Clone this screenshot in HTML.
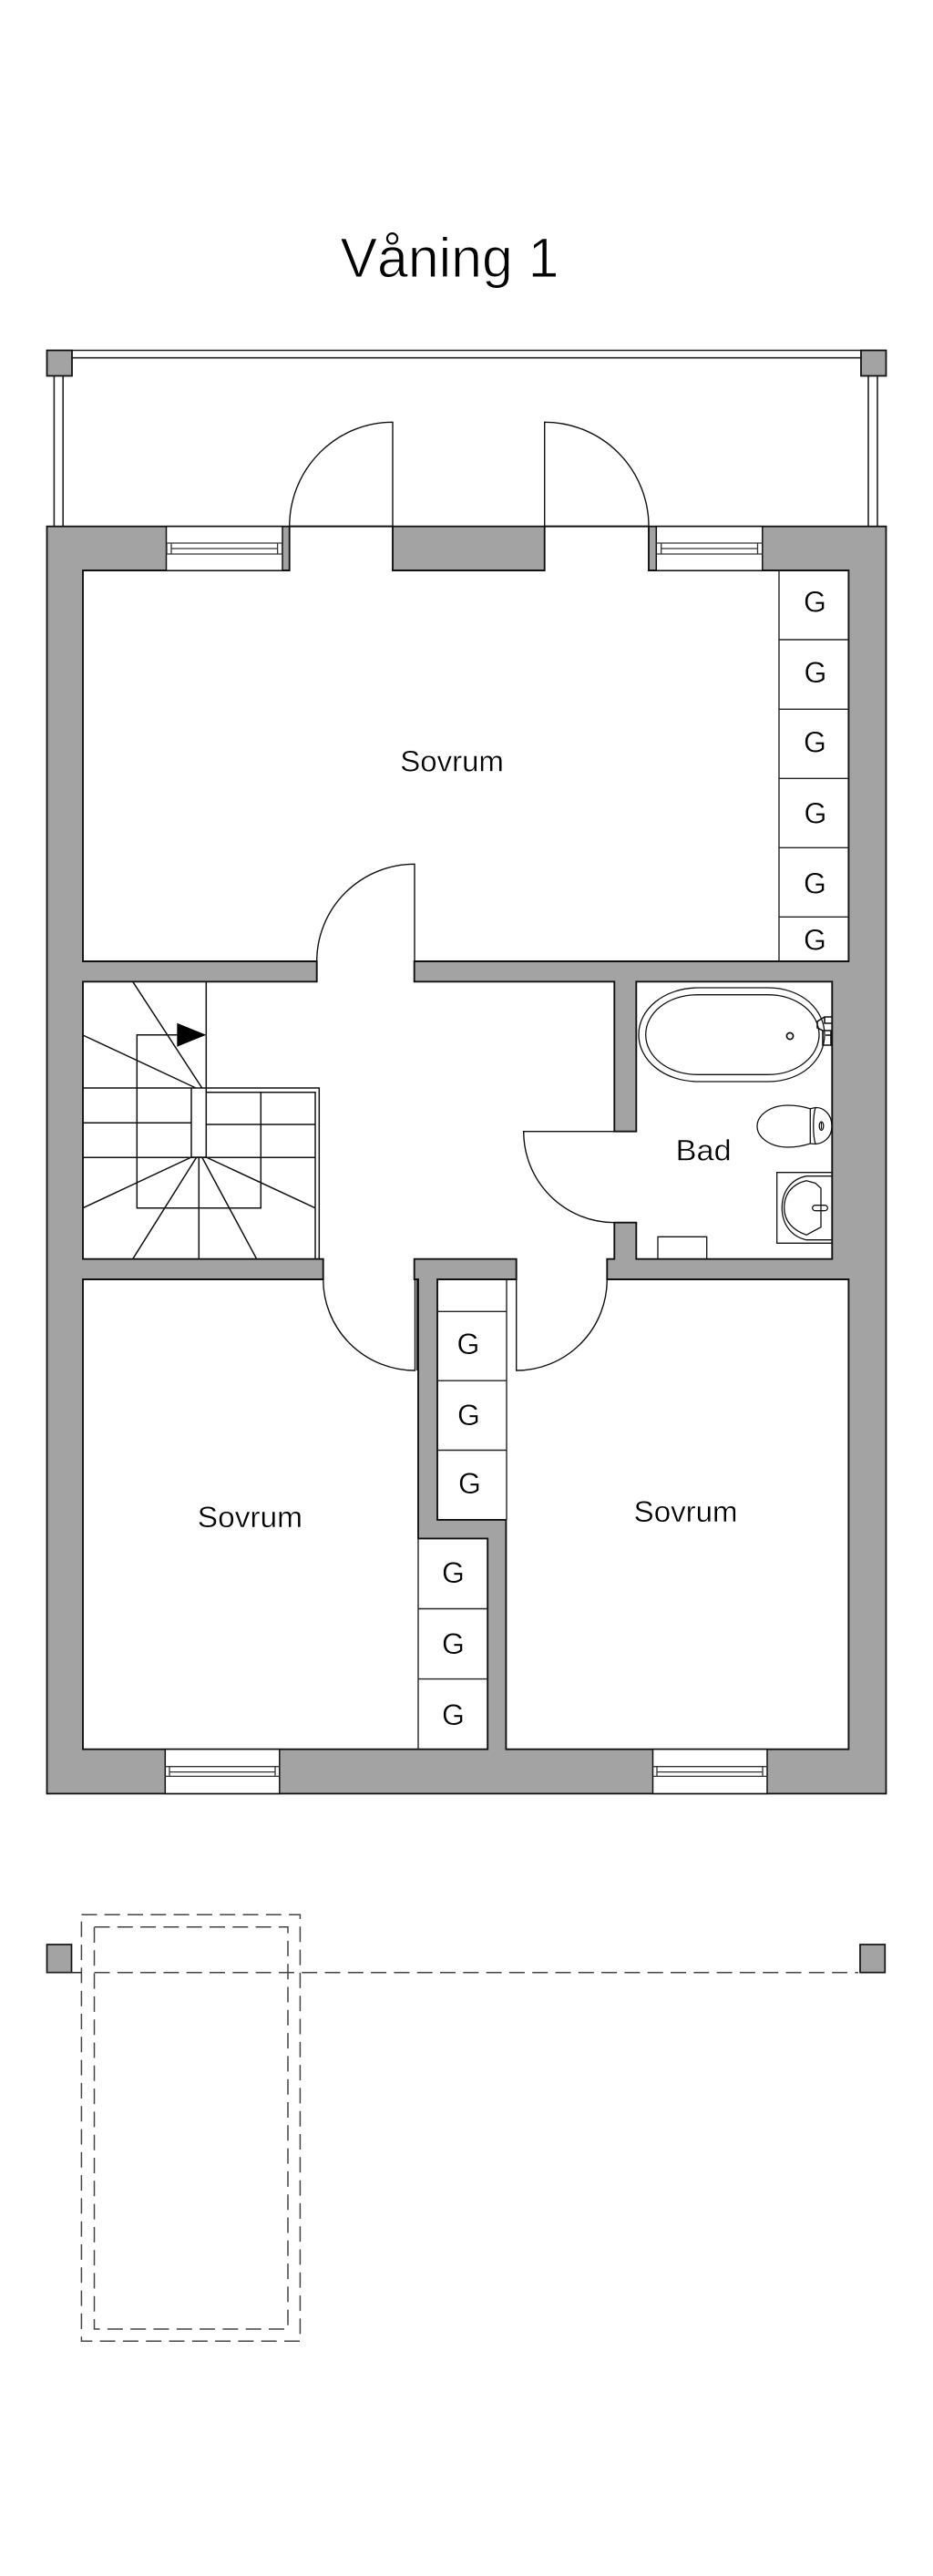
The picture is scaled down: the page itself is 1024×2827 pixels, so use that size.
<!DOCTYPE html>
<html lang="sv"><head><meta charset="utf-8"><title>Våning 1</title>
<style>html,body{margin:0;padding:0;background:#fff}svg{display:block}
text{font-family:"Liberation Sans",sans-serif;fill:#000;stroke:#fff;stroke-width:.4}</style></head>
<body>
<svg xmlns="http://www.w3.org/2000/svg" width="1024" height="2827" viewBox="0 0 1024 2827">
<rect width="1024" height="2827" fill="#fff"/>
<text x="373.5" y="304" font-size="61" textLength="240" lengthAdjust="spacingAndGlyphs" style="stroke-width:1">Våning 1</text>

<g fill="none" stroke="#222" stroke-width="1.6">
<path d="M79 384.5H945M79 392.7H945M59.4 412.7V577.7M69.2 412.7V577.7M953 412.7V577.7M963 412.7V577.7"/>
</g>
<g fill="#a3a3a3" stroke="#111" stroke-width="1.8">
<rect x="51.5" y="384.5" width="27.5" height="28"/>
<rect x="945" y="384.5" width="27.5" height="28"/>
<rect x="51.5" y="577.7" width="921" height="1390.7"/>
</g>

<!-- interior floor, walls are its outline -->
<path fill="#fff" stroke="#111" stroke-width="1.9" stroke-linejoin="miter" d="M91 626H317.7V577.7H431V626H597.7V577.7H712V626H931.4V1055H454.7V1077.3H674.3V1241.7H698.3V1077.3H913.3V1381.7H698.3V1341.7H674.3V1381.7H666.3V1404H931.4V1919.7H555.4V1667.9H480V1404H566.7V1381.7H454.7V1404H459V1688.4H535.2V1919.7H91V1404H354.7V1381.7H91V1077.3H347.7V1055H91Z"/>

<!-- windows -->
<g fill="#fff" stroke="#111" stroke-width="1.5">
<rect x="182.5" y="577.7" width="127.5" height="48.5"/>
<rect x="720.3" y="577.7" width="116.5" height="48.5"/>
<rect x="181.3" y="1919.7" width="125.5" height="48.7"/>
<rect x="716.5" y="1919.7" width="125.5" height="48.7"/>
</g>
<g fill="none" stroke="#333" stroke-width="1.3">
<path d="M182.5 596H310M182.5 608H310M188 602H304.6M183 596.6V608M188 596.6V608M304.6 596.6V608M309.6 596.6V608"/>
<path d="M720.3 596H836.7M720.3 608H836.7M725.7 602H831.5M725.7 596.6V608M831.5 596.6V608"/>
<path d="M181.3 1938.7H306.8M181.3 1949.4H306.8M186 1944.6H302M186 1938.7V1949.4M302 1938.7V1949.4"/>
<path d="M716.5 1938.7H842M716.5 1949.4H842M721 1944.6H837M721 1938.7V1949.4M837 1938.7V1949.4"/>
</g>

<!-- doors -->
<g fill="none" stroke="#111" stroke-width="1.4">
<path d="M431 577.7V463.3A113.3 114.4 0 0 0 317.7 577.7"/>
<path d="M597.7 577.7V463.3A114.3 114.4 0 0 1 712 577.7"/>
<path d="M455 1055V948.3A107.3 106.7 0 0 0 347.7 1055"/>
<path d="M354.7 1404A100.8 100 0 0 0 455.5 1504V1404"/>
<path d="M566.7 1404V1504A99.6 100 0 0 0 666.3 1404"/>
<path d="M674.3 1241.7H574.7A99.6 100 0 0 0 674.3 1341.7"/>
<path d="M457.6 1404V1504" stroke-width="1"/>
</g>

<!-- closets -->
<g fill="none" stroke="#222" stroke-width="1.4">
<path d="M855 626V1055M855 702H931.4M855 778.3H931.4M855 854.3H931.4M855 930.3H931.4M855 1006.3H931.4"/>
<path d="M556 1404V1667.9M480 1439.3H556M480 1515.2H556M480 1591.5H556"/>
<path d="M459 1688.4V1919.7M459 1765.5H535.2M459 1842.6H535.2"/>
</g>

<!-- stairs -->
<g fill="none" stroke="#111" stroke-width="1.5">
<path d="M226.3 1077.3V1270M145.7 1077.3L221.7 1194M91 1136L215 1194M91 1194H350.3V1381.7M346 1381.7V1198.7H226.3"/>
<path d="M210 1194V1270H226.3M91 1232.3H210M91 1270.3H346M226.3 1234H346"/>
<path d="M194.3 1135.7H150.3V1325.7H286.3V1198.7"/>
<path d="M210 1270L91 1325.7M215.7 1270L145.7 1381.7M218.3 1270V1381.7M221.7 1270L281.7 1381.7M226.3 1270L346 1325.7"/>
</g>
<path d="M194.3 1122.7V1148.7L226.3 1135.7Z" fill="#000"/>

<!-- bathroom -->
<g fill="none" stroke="#111" stroke-width="1.3">
<path d="M767 1084H843C880 1084 905 1108 905 1135.5C905 1163 880 1187 843 1187H767C728 1187 701 1163 701 1135.5C701 1108 728 1084 767 1084Z"/>
<path d="M767 1091.7H843C875 1091.7 899 1112 899 1135.5C899 1159 875 1179.3 843 1179.3H767C732 1179.3 708.7 1159 708.7 1135.5C708.7 1112 732 1091.7 767 1091.7Z"/>
<circle cx="867" cy="1137" r="3.6" stroke-width="1.7"/>
<path d="M913 1116H905L897 1121V1128L903 1131H913M903 1131V1147H912V1131M905 1116V1123H913M906 1136H912" stroke-width="1.6"/>
<path d="M889.3 1216.7C880 1214 872 1213 865 1213C845 1213 831 1224 831 1236C831 1248 845 1259 865 1259C872 1259 880 1258 889.3 1255Z"/>
<path d="M889.3 1216.7L895 1215.5C903 1215 913 1222 913 1236C913 1249 903 1255 895 1255.5L889.3 1255M895 1215.5C892 1225 892 1246 895 1255.5"/>
<ellipse cx="901.5" cy="1235.7" rx="2.3" ry="4.6"/>
<path d="M901.5 1232V1239" stroke-width="1"/>
<path d="M913.3 1286.7H852.7V1364.3H913.3"/>
<path d="M913.3 1290.7H885C868 1294 858.3 1308 858.3 1325.5C858.3 1343 868 1357 885 1360.7H913.3"/>
<path d="M885 1295.7L895 1298.5L901 1304V1346.7L885 1355.3C870 1350 860.7 1340 860.7 1325.5C860.7 1310 870 1299 885 1295.7Z"/>
<rect x="891.7" y="1322.7" width="16.6" height="6" rx="3"/>
<path d="M722 1381.7V1357.3H775.7V1381.7"/>
</g>

<!-- labels -->
<g font-size="32">
<text x="439.3" y="846.7" textLength="113.6" lengthAdjust="spacingAndGlyphs">Sovrum</text>
<text x="216.8" y="1675.8" textLength="115.2" lengthAdjust="spacingAndGlyphs">Sovrum</text>
<text x="695.7" y="1669.8" textLength="113.8" lengthAdjust="spacingAndGlyphs">Sovrum</text>
<text x="741.7" y="1273.3" textLength="61" lengthAdjust="spacingAndGlyphs">Bad</text>
<text x="882" y="671.7">G</text><text x="882.5" y="749">G</text><text x="882" y="825.7">G</text>
<text x="882.5" y="903.3">G</text><text x="882" y="980.7">G</text><text x="882" y="1042.7">G</text>
<text x="501.5" y="1486">G</text><text x="502" y="1563.9">G</text><text x="503" y="1639">G</text>
<text x="485" y="1737">G</text><text x="485" y="1815">G</text><text x="485" y="1893">G</text>
</g>

<!-- roof projection -->
<g fill="#a3a3a3" stroke="#111" stroke-width="1.7">
<rect x="51.5" y="2134" width="27" height="30.7"/>
<rect x="944" y="2134" width="27.3" height="30.7"/>
</g>
<g fill="none" stroke="#444" stroke-width="1.5" stroke-dasharray="17 8.3">
<rect x="89.4" y="2101.3" width="240" height="468"/>
<rect x="103.5" y="2114.7" width="212.5" height="441.3"/>
</g>
<path d="M51.5 2164.7H89.4" stroke="#222" stroke-width="1.5"/>
<path d="M103.5 2164.7H942" fill="none" stroke="#444" stroke-width="1.5" stroke-dasharray="17 8.3"/>
</svg>
</body></html>
